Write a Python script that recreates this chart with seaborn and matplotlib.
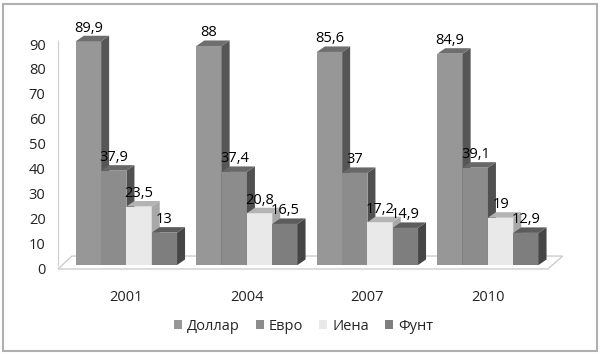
import pandas as pd
import numpy as np
import matplotlib.pyplot as plt
import matplotlib.transforms as mtransforms
from matplotlib.patches import Polygon, Rectangle, Patch
import seaborn as sns

sns.set_style("white")
plt.rcParams['font.family'] = ['Open Sans', 'DejaVu Sans']

years = ['2001', '2004', '2007', '2010']
currencies = ['Доллар', 'Евро', 'Иена', 'Фунт']
dollar = [89.9, 88, 85.6, 84.9]
euro = [37.9, 37.4, 37, 39.1]
yen = [23.5, 20.8, 17.2, 19]
pound = [13, 16.5, 14.9, 12.9]

front_colors = ['#979797', '#8c8c8c', '#e9e9e9', '#7e7e7e']
side_colors = ['#565656', '#505050', '#a8a8a8', '#454545']
top_colors = ['#6e6e6e', '#686868', '#b4b4b4', '#5c5c5c']

df = pd.DataFrame({
    'year': years * 4,
    'currency': np.repeat(currencies, len(years)),
    'value': dollar + euro + yen + pound,
})

fig = plt.figure(figsize=(6, 3.54), dpi=100)
ax = fig.add_axes([58 / 600, 1 - 265 / 354, 502 / 600, 224 / 354])

sns.barplot(data=df, x='year', y='value', hue='currency', hue_order=currencies,
            palette=front_colors, saturation=1, width=0.84, dodge=True,
            linewidth=0, ax=ax)

ax.set_xlim(-0.568, 3.598)
ax.set_ylim(0, 90)

# pseudo-3D depth in data units
dx = 8 / 120.5
dy = 5.5 / 2.489

for i, cont in enumerate(ax.containers):
    vals = [dollar, euro, yen, pound][i]
    for bar in cont:
        x0 = bar.get_x()
        x1 = x0 + bar.get_width()
        h = bar.get_height()
        z = 3 + (x0 + 1) * 0.1
        bar.set_zorder(z)
        bar.set_clip_on(False)
        side = Polygon([(x1, 0), (x1 + dx, dy), (x1 + dx, h + dy), (x1, h)],
                       closed=True, facecolor=side_colors[i], edgecolor='none',
                       zorder=z, clip_on=False)
        top = Polygon([(x0, h), (x0 + dx, h + dy), (x1 + dx, h + dy), (x1, h)],
                      closed=True, facecolor=top_colors[i], edgecolor='none',
                      zorder=z, clip_on=False)
        ax.add_patch(side)
        ax.add_patch(top)
    labels = [f'{v:g}'.replace('.', ',') for v in vals]
    texts = ax.bar_label(cont, labels=labels, padding=4, fontsize=10.5, color='black')
    for t in texts:
        t.set_zorder(20)
        t.set_clip_on(False)

# floor
floor = Polygon([(-0.568, -1.6), (3.498, -1.6), (3.62, 3.6), (-0.452, 3.6)], closed=True,
                facecolor='white', edgecolor='#c8c8c8', linewidth=0.9, zorder=1, clip_on=False)
ax.add_patch(floor)

sns.despine(ax=ax, top=True, right=True, bottom=True, left=False)
ax.spines['left'].set_color('#d0d0d0')
ax.spines['left'].set_linewidth(0.9)

ax.set_yticks(range(0, 91, 10))
ax.tick_params(axis='y', length=0, pad=9, labelsize=10.5, labelcolor='#222222')
ax.tick_params(axis='x', length=0, pad=18, labelsize=10.5, labelcolor='#222222')
ax.set_xlabel('')
ax.set_ylabel('')
shift = mtransforms.ScaledTranslation(0, -0.03, fig.dpi_scale_trans)
for lab in ax.get_yticklabels():
    lab.set_transform(lab.get_transform() + shift)

if ax.get_legend() is not None:
    ax.get_legend().remove()
handles = [Patch(facecolor=c, edgecolor='none') for c in front_colors]
fig.legend(handles, currencies, loc='center', bbox_to_anchor=(0.506, 1 - 326 / 354),
           ncol=4, frameon=False, fontsize=10.5, handlelength=0.55, handleheight=0.55,
           handletextpad=0.35, columnspacing=1.1)

fig.patches.append(Rectangle((3 / 600, 3 / 354), 594 / 600, 347 / 354, transform=fig.transFigure,
                             facecolor='none', edgecolor='#b0b0b0', linewidth=1.5))

fig.savefig('out.png', dpi=100)
